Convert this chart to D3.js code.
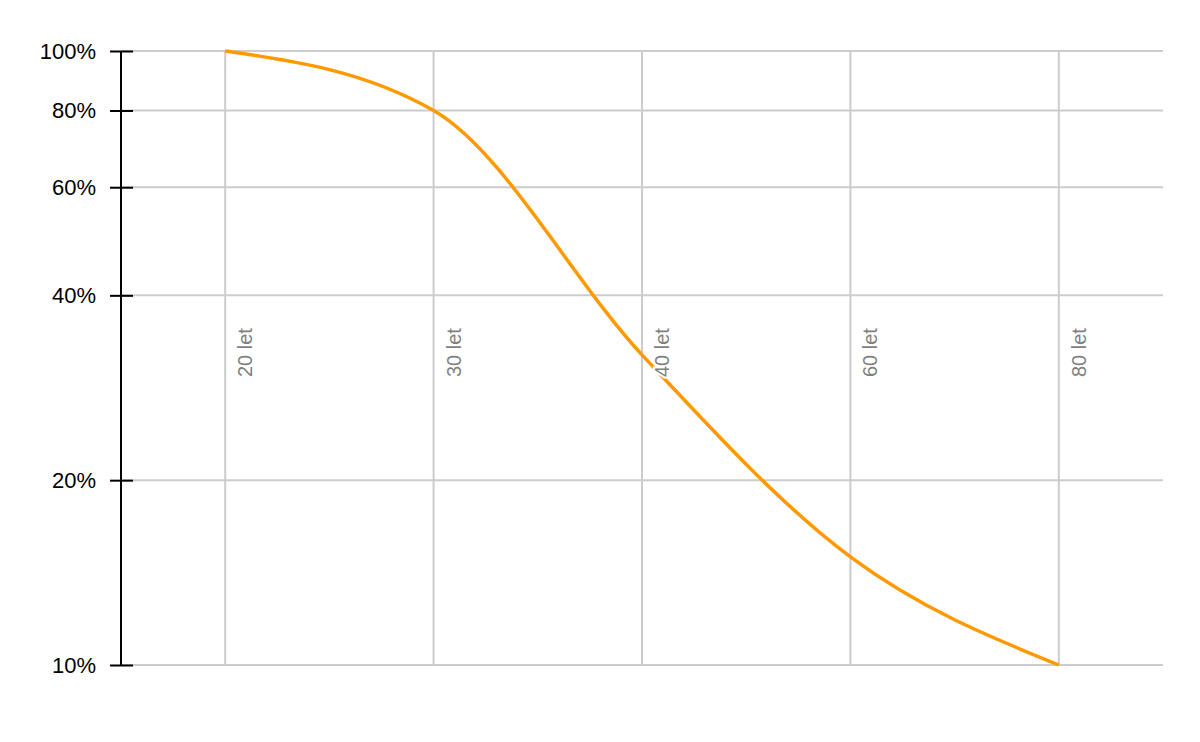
<!DOCTYPE html>
<html>
<head>
<meta charset="utf-8">
<script src="https://cdn.jsdelivr.net/npm/d3@7/dist/d3.min.js"></script>
<style>
body { margin: 0; background: #fff; }
svg { font-family: "Liberation Sans", Arial, sans-serif; }
</style>
</head>
<body>
<div id="chart-area"></div>
<script>
// data
var ages = ["20 let", "30 let", "40 let", "60 let", "80 let"];
var shares = [100, 80, 32, 15, 10];
var yTicks = [10, 20, 40, 60, 80, 100];

var W = 1200, H = 742;
var margins = { top: 51, bottom: 77, left: 121, right: 37 };
var width = W - margins.left - margins.right;
var height = H - margins.top - margins.bottom;

var svg = d3.select("#chart-area")
	.append("svg")
		.attr("width", W)
		.attr("height", H);

var g = svg.append("g")
	.attr("transform", `translate(${margins.left}, ${margins.top})`);

var x = d3.scaleBand()
	.domain(ages)
	.range([0, width])
	.padding(0);

var y = d3.scaleLog()
	.domain([10, 100])
	.range([height, 0]);

// horizontal grid
g.append("g").attr("class", "y-grid")
	.selectAll("line")
	.data(yTicks)
	.enter().append("line")
		.attr("x1", 0)
		.attr("x2", width)
		.attr("y1", d => y(d))
		.attr("y2", d => y(d))
		.attr("stroke", "#cccccc")
		.attr("stroke-width", 2);

// vertical grid
g.append("g").attr("class", "x-grid")
	.selectAll("line")
	.data(ages)
	.enter().append("line")
		.attr("x1", d => x(d) + x.bandwidth() / 2)
		.attr("x2", d => x(d) + x.bandwidth() / 2)
		.attr("y1", 0)
		.attr("y2", height)
		.attr("stroke", "#cccccc")
		.attr("stroke-width", 2);

// line
var line = d3.line()
	.x((d, i) => x(ages[i]) + x.bandwidth() / 2)
	.y(d => y(d))
	.curve(d3.curveMonotoneX);

g.append("path")
	.datum(shares)
	.attr("d", line)
	.attr("fill", "none")
	.attr("stroke", "#ff9900")
	.attr("stroke-width", 3.5);

// category labels (rotated, with white halo)
g.append("g").attr("class", "x-labels")
	.selectAll("text")
	.data(ages)
	.enter().append("text")
		.attr("transform", d => `translate(${x(d) + x.bandwidth() / 2 + 27}, ${377 - margins.top}) rotate(-90)`)
		.attr("font-size", "20px")
		.attr("fill", "#808080")
		.attr("stroke", "#ffffff")
		.attr("stroke-width", 4)
		.attr("paint-order", "stroke")
		.text(d => d);

// y axis
var yAxisCall = d3.axisLeft(y)
	.tickValues(yTicks)
	.tickSize(11)
	.tickPadding(14)
	.tickFormat(d => d + "%");

var yAxisGroup = g.append("g")
	.attr("class", "y-axis-group")
	.call(yAxisCall);

yAxisGroup.select(".domain").remove();
yAxisGroup.selectAll(".tick line")
	.attr("x2", -11)
	.attr("x1", 12)
	.attr("stroke", "#000")
	.attr("stroke-width", 2);
yAxisGroup.selectAll(".tick text")
	.attr("font-size", "22px")
	.attr("fill", "#000")
	.attr("font-family", "Liberation Sans, Arial, sans-serif");

yAxisGroup.append("line")
	.attr("x1", 0)
	.attr("x2", 0)
	.attr("y1", 0)
	.attr("y2", height)
	.attr("stroke", "#000")
	.attr("stroke-width", 2);
</script>
</body>
</html>
